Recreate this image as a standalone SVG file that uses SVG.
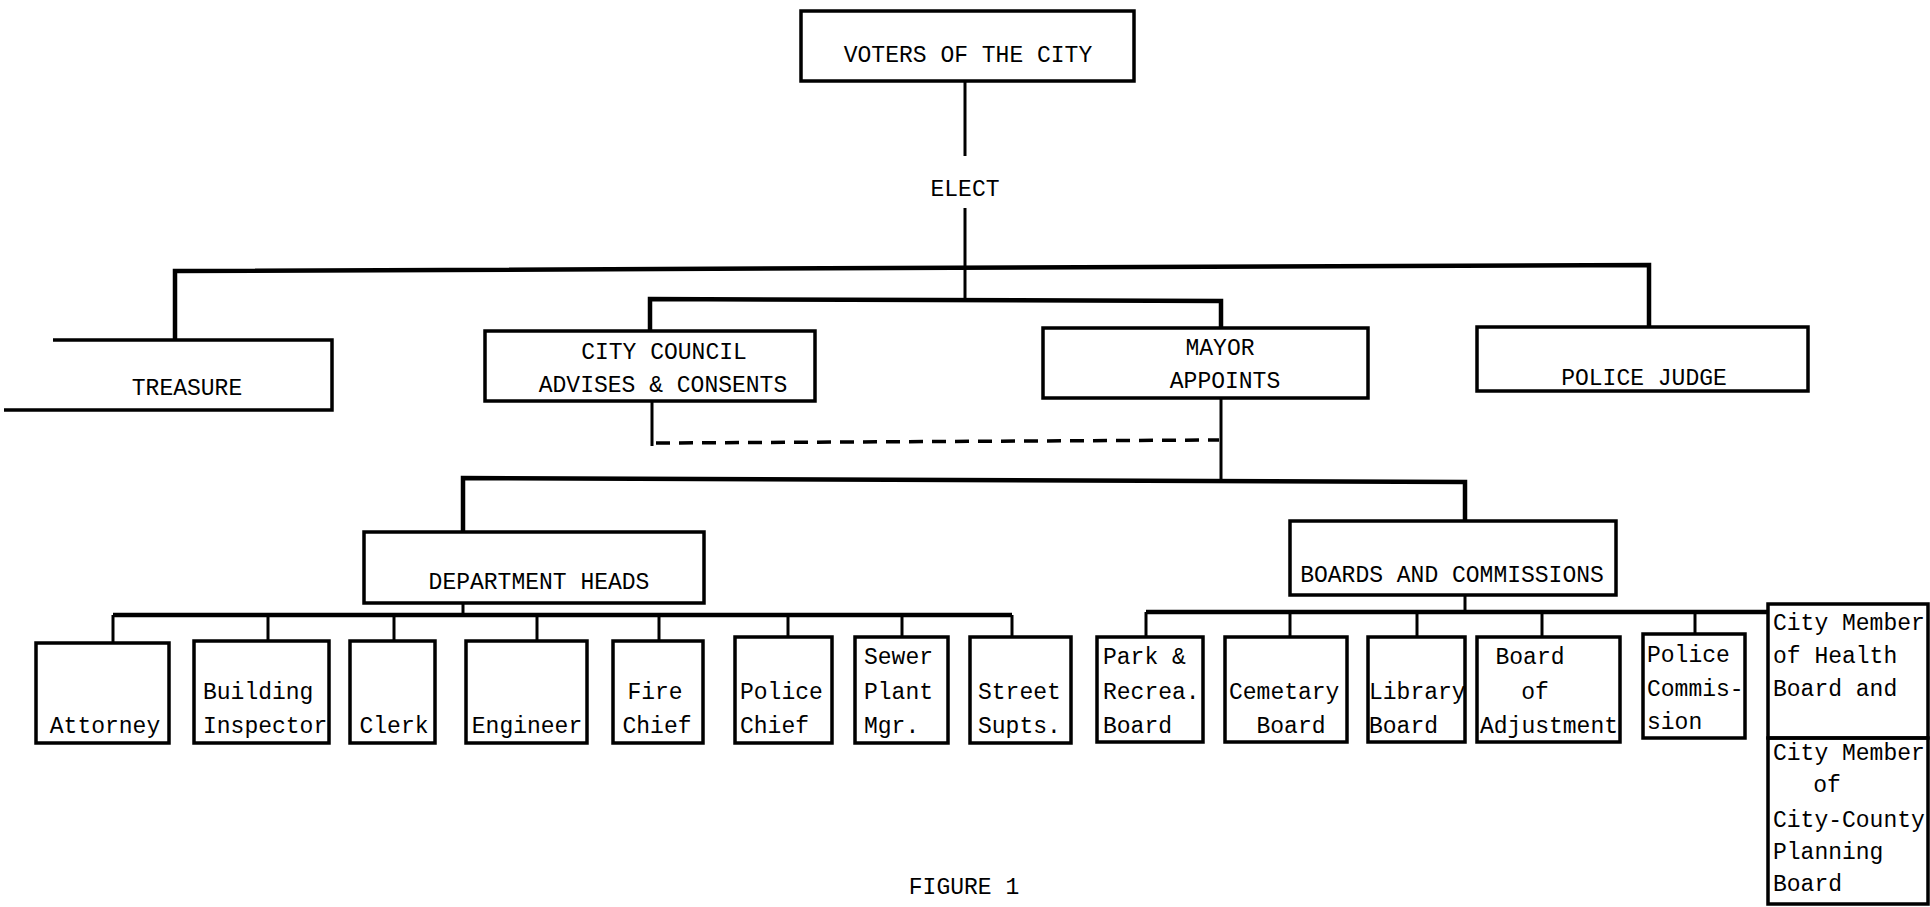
<svg xmlns="http://www.w3.org/2000/svg" width="1930" height="907" viewBox="0 0 1930 907">
<style>
  .box { fill: none; stroke: #000; stroke-width: 3.5; }
  .ln { fill: none; stroke: #000; stroke-width: 3; }
  .bus { fill: none; stroke: #000; stroke-width: 4.5; }
  .dash { fill: none; stroke: #000; stroke-width: 3.5; stroke-dasharray: 14 9; }
  text { font-family: "Liberation Mono", "DejaVu Sans Mono", monospace; font-size: 23px; fill: #000; }
  .c { text-anchor: middle; }
</style>
<rect width="1930" height="907" fill="#fff"/>
<g id="connectors">
  <line class="ln" x1="965" y1="81" x2="965" y2="156"/>
  <line class="ln" x1="965" y1="208" x2="965" y2="300"/>
  <polyline class="bus" points="175,340 175,271 1649,265 1649,326"/>
  <polyline class="bus" points="650,331 650,299 1221,301 1221,327"/>
  <line class="ln" x1="652" y1="401" x2="652" y2="446"/>
  <line class="dash" x1="656" y1="443" x2="1219" y2="440"/>
  <line class="ln" x1="1221" y1="398" x2="1221" y2="480"/>
  <polyline class="bus" points="463,532 463,478 1465,482 1465,521"/>
  <line class="ln" x1="463" y1="603" x2="463" y2="615"/>
  <line class="bus" x1="113" y1="615" x2="1012" y2="615"/>
  <line class="ln" x1="113" y1="615" x2="113" y2="643"/>
  <line class="ln" x1="268" y1="615" x2="268" y2="641"/>
  <line class="ln" x1="394" y1="615" x2="394" y2="641"/>
  <line class="ln" x1="537" y1="615" x2="537" y2="641"/>
  <line class="ln" x1="659" y1="615" x2="659" y2="641"/>
  <line class="ln" x1="788" y1="615" x2="788" y2="637"/>
  <line class="ln" x1="902" y1="615" x2="902" y2="637"/>
  <line class="ln" x1="1012" y1="615" x2="1012" y2="637"/>
  <line class="ln" x1="1465" y1="595" x2="1465" y2="612"/>
  <line class="bus" x1="1146" y1="612" x2="1768" y2="612"/>
  <line class="ln" x1="1146" y1="612" x2="1146" y2="637"/>
  <line class="ln" x1="1290" y1="612" x2="1290" y2="637"/>
  <line class="ln" x1="1417" y1="612" x2="1417" y2="637"/>
  <line class="ln" x1="1542" y1="612" x2="1542" y2="637"/>
  <line class="ln" x1="1695" y1="612" x2="1695" y2="634"/>
</g>
<g id="voters">
  <rect class="box" x="801" y="11" width="333" height="70"/>
  <text class="c" x="968" y="62">VOTERS OF THE CITY</text>
</g>
<g id="elect">
  <text class="c" x="965" y="196">ELECT</text>
</g>
<g id="treasure">
  <polyline class="box" points="53,340 332,340 332,410 4,410"/>
  <text class="c" x="187" y="395">TREASURE</text>
</g>
<g id="council">
  <rect class="box" x="485" y="331" width="330" height="70"/>
  <text class="c" x="664" y="359">CITY COUNCIL</text>
  <text class="c" x="663" y="392">ADVISES &amp; CONSENTS</text>
</g>
<g id="mayor">
  <rect class="box" x="1043" y="328" width="325" height="70"/>
  <text class="c" x="1220" y="355">MAYOR</text>
  <text class="c" x="1225" y="388">APPOINTS</text>
</g>
<g id="police-judge">
  <rect class="box" x="1477" y="327" width="331" height="64"/>
  <text class="c" x="1644" y="385">POLICE JUDGE</text>
</g>
<g id="dept-heads">
  <rect class="box" x="364" y="532" width="340" height="71"/>
  <text class="c" x="539" y="589">DEPARTMENT HEADS</text>
</g>
<g id="boards">
  <rect class="box" x="1290" y="521" width="326" height="74"/>
  <text class="c" x="1452" y="582">BOARDS AND COMMISSIONS</text>
</g>
<g id="attorney">
  <rect class="box" x="36" y="643" width="133" height="100"/>
  <text class="c" x="105" y="733">Attorney</text>
</g>
<g id="building-inspector">
  <rect class="box" x="194" y="641" width="135" height="102"/>
  <text x="203" y="699">Building</text>
  <text x="203" y="733">Inspector</text>
</g>
<g id="clerk">
  <rect class="box" x="350" y="641" width="85" height="102"/>
  <text class="c" x="394" y="733">Clerk</text>
</g>
<g id="engineer">
  <rect class="box" x="466" y="641" width="121" height="102"/>
  <text class="c" x="527" y="733">Engineer</text>
</g>
<g id="fire-chief">
  <rect class="box" x="613" y="641" width="90" height="102"/>
  <text class="c" x="655" y="699">Fire</text>
  <text class="c" x="657" y="733">Chief</text>
</g>
<g id="police-chief">
  <rect class="box" x="735" y="637" width="97" height="106"/>
  <text x="740" y="699">Police</text>
  <text x="740" y="733">Chief</text>
</g>
<g id="sewer">
  <rect class="box" x="855" y="637" width="93" height="106"/>
  <text x="864" y="664">Sewer</text>
  <text x="864" y="699">Plant</text>
  <text x="864" y="733">Mgr.</text>
</g>
<g id="street">
  <rect class="box" x="970" y="637" width="101" height="106"/>
  <text x="978" y="699">Street</text>
  <text x="978" y="733">Supts.</text>
</g>
<g id="park">
  <rect class="box" x="1097" y="637" width="106" height="105"/>
  <text x="1103" y="664">Park &amp;</text>
  <text x="1103" y="699">Recrea.</text>
  <text x="1103" y="733">Board</text>
</g>
<g id="cemetary">
  <rect class="box" x="1225" y="637" width="122" height="105"/>
  <text x="1229" y="699">Cemetary</text>
  <text class="c" x="1291" y="733">Board</text>
</g>
<g id="library">
  <rect class="box" x="1368" y="637" width="97" height="105"/>
  <text x="1369" y="699">Library</text>
  <text x="1369" y="733">Board</text>
</g>
<g id="adjustment">
  <rect class="box" x="1477" y="637" width="143" height="105"/>
  <text class="c" x="1530" y="664">Board</text>
  <text class="c" x="1535" y="699">of</text>
  <text x="1480" y="733">Adjustment</text>
</g>
<g id="police-commission">
  <rect class="box" x="1643" y="634" width="102" height="104"/>
  <text x="1647" y="662">Police</text>
  <text x="1647" y="696">Commis-</text>
  <text x="1647" y="729">sion</text>
</g>
<g id="health">
  <rect class="box" x="1768" y="604" width="160" height="134"/>
  <text x="1773" y="630">City Member</text>
  <text x="1773" y="663">of Health</text>
  <text x="1773" y="696">Board and</text>
</g>
<g id="planning">
  <rect class="box" x="1768" y="738" width="160" height="166"/>
  <text x="1773" y="760">City Member</text>
  <text class="c" x="1827" y="792">of</text>
  <text x="1773" y="827">City-County</text>
  <text x="1773" y="859">Planning</text>
  <text x="1773" y="891">Board</text>
</g>
<g id="figure">
  <text class="c" x="964" y="894">FIGURE 1</text>
</g>
</svg>
